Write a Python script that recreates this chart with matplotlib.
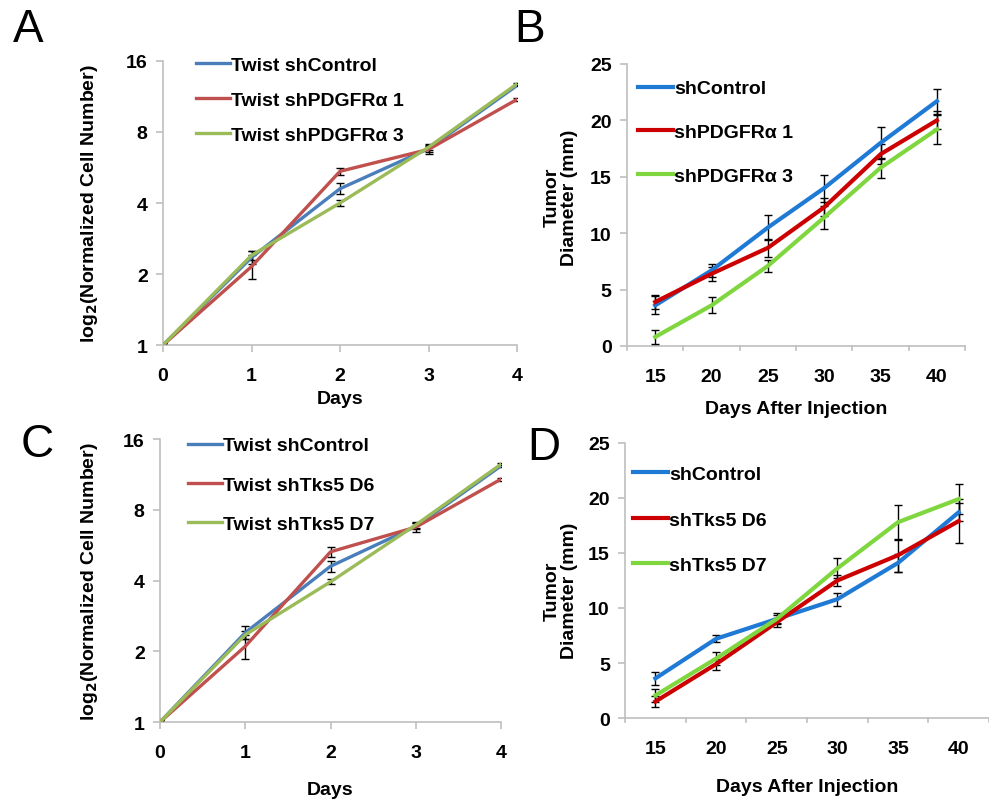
import matplotlib
matplotlib.use("Agg")
import matplotlib.pyplot as plt
import numpy as np

plt.rcParams['font.family'] = ['Liberation Sans', 'DejaVu Sans']

# ---- Data ----
days = [0, 1, 2, 3, 4]
labels_A = ["Twist shControl", "Twist shPDGFR\u03b1 1", "Twist shPDGFR\u03b1 3"]
A_ctrl = [1, 2.35, 4.6, 6.8, 12.6]
A_p1 = [1, 2.15, 5.45, 6.75, 11.0]
A_p3 = [1, 2.4, 4.0, 6.9, 12.8]
A_ctrl_err = [0.02, 0.15, 0.25, 0.2, 0.1]
A_p1_err = [0.02, 0.25, 0.2, 0.3, 0.15]
A_p3_err = [0.02, 0.1, 0.1, 0.2, 0.1]

labels_C = ["Twist shControl", "Twist shTks5 D6", "Twist shTks5 D7"]
C_ctrl = [1, 2.4, 4.6, 6.8, 12.3]
C_d6 = [1, 2.1, 5.3, 6.75, 10.8]
C_d7 = [1, 2.35, 3.95, 6.9, 12.5]
C_ctrl_err = [0.02, 0.15, 0.25, 0.2, 0.1]
C_d6_err = [0.02, 0.25, 0.25, 0.3, 0.15]
C_d7_err = [0.02, 0.1, 0.1, 0.2, 0.1]

inj_days = ["15", "20", "25", "30", "35", "40"]
labels_B = ["shControl", "shPDGFR\u03b1 1", "shPDGFR\u03b1 3"]
B_ctrl = [3.6, 6.7, 10.5, 14.0, 18.0, 21.7]
B_p1 = [3.9, 6.4, 8.7, 12.3, 17.0, 20.0]
B_p3 = [0.8, 3.6, 7.1, 11.4, 15.8, 19.2]
B_ctrl_err = [0.8, 0.6, 1.1, 1.2, 1.4, 1.1]
B_p1_err = [0.6, 0.6, 0.8, 0.8, 0.9, 0.8]
B_p3_err = [0.6, 0.7, 0.5, 1.0, 0.9, 1.3]

labels_D = ["shControl", "shTks5 D6", "shTks5 D7"]
D_ctrl = [3.6, 7.2, 9.0, 10.8, 14.1, 18.7]
D_d6 = [1.5, 4.9, 8.7, 12.5, 14.8, 17.9]
D_d7 = [2.05, 5.4, 9.0, 13.6, 17.8, 19.9]
D_ctrl_err = [0.6, 0.3, 0.5, 0.6, 0.8, 0.8]
D_d6_err = [0.5, 0.5, 0.4, 0.5, 1.5, 2.0]
D_d7_err = [0.6, 0.6, 0.4, 0.9, 1.6, 1.4]

colA = ["#4a7ebb", "#c0504d", "#9bbb59"]
colB = ["#1f7ad6", "#cc0000", "#7fd63f"]
spine_col = "#bfbfbf"
FS = 14

fig = plt.figure(figsize=(9.89, 8.03), dpi=100)

def style(ax):
    for s in ["top", "right"]:
        ax.spines[s].set_visible(False)
    for s in ["left", "bottom"]:
        ax.spines[s].set_color(spine_col)
        ax.spines[s].set_linewidth(1.2)
    ax.tick_params(axis="both", direction="out", length=5, width=1.2,
                   color=spine_col, labelsize=FS)
    ax.tick_params(axis="x", pad=11)
    ax.tick_params(axis="y", pad=6)
    for t in ax.get_xticklabels() + ax.get_yticklabels():
        t.set_fontweight("bold")

def make_legend(ax, anchor, lspacing, lw, hl):
    h, l = ax.get_legend_handles_labels()
    h = [hh[0] for hh in h]
    leg = ax.legend(h, l, loc="upper left", bbox_to_anchor=anchor, frameon=False,
                    prop={"size": FS, "weight": "bold"}, handlelength=hl,
                    handletextpad=0.05, labelspacing=lspacing, borderpad=0, borderaxespad=0)
    for lh in leg.get_lines():
        lh.set_linewidth(lw)

def growth(ax, series, errs, labels, cols, legend_anchor, lspacing):
    for y, e, lab, c in zip(series, errs, labels, cols):
        ax.errorbar(days, y, yerr=e, color=c, lw=2.4, label=lab,
                    ecolor="black", elinewidth=1.0, capsize=3, capthick=1.0, zorder=3)
    ax.set_yscale("log", base=2)
    ax.set_ylim(1, 16)
    ax.set_xlim(0, 4)
    ax.set_yticks([1, 2, 4, 8, 16])
    ax.set_yticklabels(["1", "2", "4", "8", "16"])
    ax.yaxis.set_minor_locator(matplotlib.ticker.NullLocator())
    ax.set_xticks(days)
    ax.set_xticklabels([str(d) for d in days])
    style(ax)
    ax.set_ylabel("log$_\\mathbf{2}$(Normalized Cell Number)", fontsize=FS, fontweight="bold")
    ax.set_xlabel("Days", fontsize=FS, fontweight="bold")
    make_legend(ax, legend_anchor, lspacing, 2.4, 1.75)

def tumor(ax, series, errs, labels, cols, legend_anchor, lspacing):
    x = np.arange(len(inj_days))
    for y, e, lab, c in zip(series, errs, labels, cols):
        ax.errorbar(x, y, yerr=e, color=c, lw=3.0, label=lab,
                    ecolor="black", elinewidth=1.0, capsize=3, capthick=1.0, zorder=3)
    ax.set_xlim(-0.5, len(inj_days) - 0.5)
    ax.set_ylim(0, 25)
    ax.set_yticks([0, 5, 10, 15, 20, 25])
    ax.set_xticks(x)
    ax.set_xticklabels(inj_days)
    style(ax)
    ax.tick_params(axis="x", length=0, pad=16)
    for b in np.arange(-0.5, len(inj_days), 1.0):
        ax.plot([b, b], [0, -0.35], color=spine_col, lw=1.2, clip_on=False)
    ax.set_ylabel("Tumor\nDiameter (mm)", fontsize=FS, fontweight="bold", linespacing=1.05)
    ax.set_xlabel("Days After Injection", fontsize=FS, fontweight="bold")
    make_legend(ax, legend_anchor, lspacing, 3.0, 1.8)

axA = fig.add_axes([0.1648, 0.5691, 0.358, 0.3537])
growth(axA, [A_ctrl, A_p1, A_p3], [A_ctrl_err, A_p1_err, A_p3_err], labels_A, colA, (0.093, 1.016), 0.89)
axA.yaxis.set_label_coords(-0.178, 0.5)
axA.xaxis.set_label_coords(0.5, -0.16)

axB = fig.add_axes([0.634, 0.5679, 0.3418, 0.3512])
tumor(axB, [B_ctrl, B_p1, B_p3], [B_ctrl_err, B_p1_err, B_p3_err], labels_B, colB, (0.033, 0.944), 1.35)
axB.yaxis.set_label_coords(-0.145, 0.53)
axB.xaxis.set_label_coords(0.5, -0.19)

axC = fig.add_axes([0.1618, 0.0996, 0.3448, 0.3524])
growth(axC, [C_ctrl, C_d6, C_d7], [C_ctrl_err, C_d6_err, C_d7_err], labels_C, colA, (0.082, 1.008), 1.12)
axC.yaxis.set_label_coords(-0.176, 0.5)
axC.xaxis.set_label_coords(0.5, -0.208)

axD = fig.add_axes([0.632, 0.1046, 0.368, 0.3425])
tumor(axD, [D_ctrl, D_d6, D_d7], [D_ctrl_err, D_d6_err, D_d7_err], labels_D, colB, (0.022, 0.918), 1.43)
axD.yaxis.set_label_coords(-0.129, 0.465)
axD.xaxis.set_label_coords(0.5, -0.218)

for lab, (px, py) in zip("ABCD", [(28, 30), (530, 30), (37, 445), (544, 448)]):
    fig.text(px / 989, 1 - py / 803, lab, fontsize=33, ha="center", va="center")

fig.savefig("out.png", dpi=100)
